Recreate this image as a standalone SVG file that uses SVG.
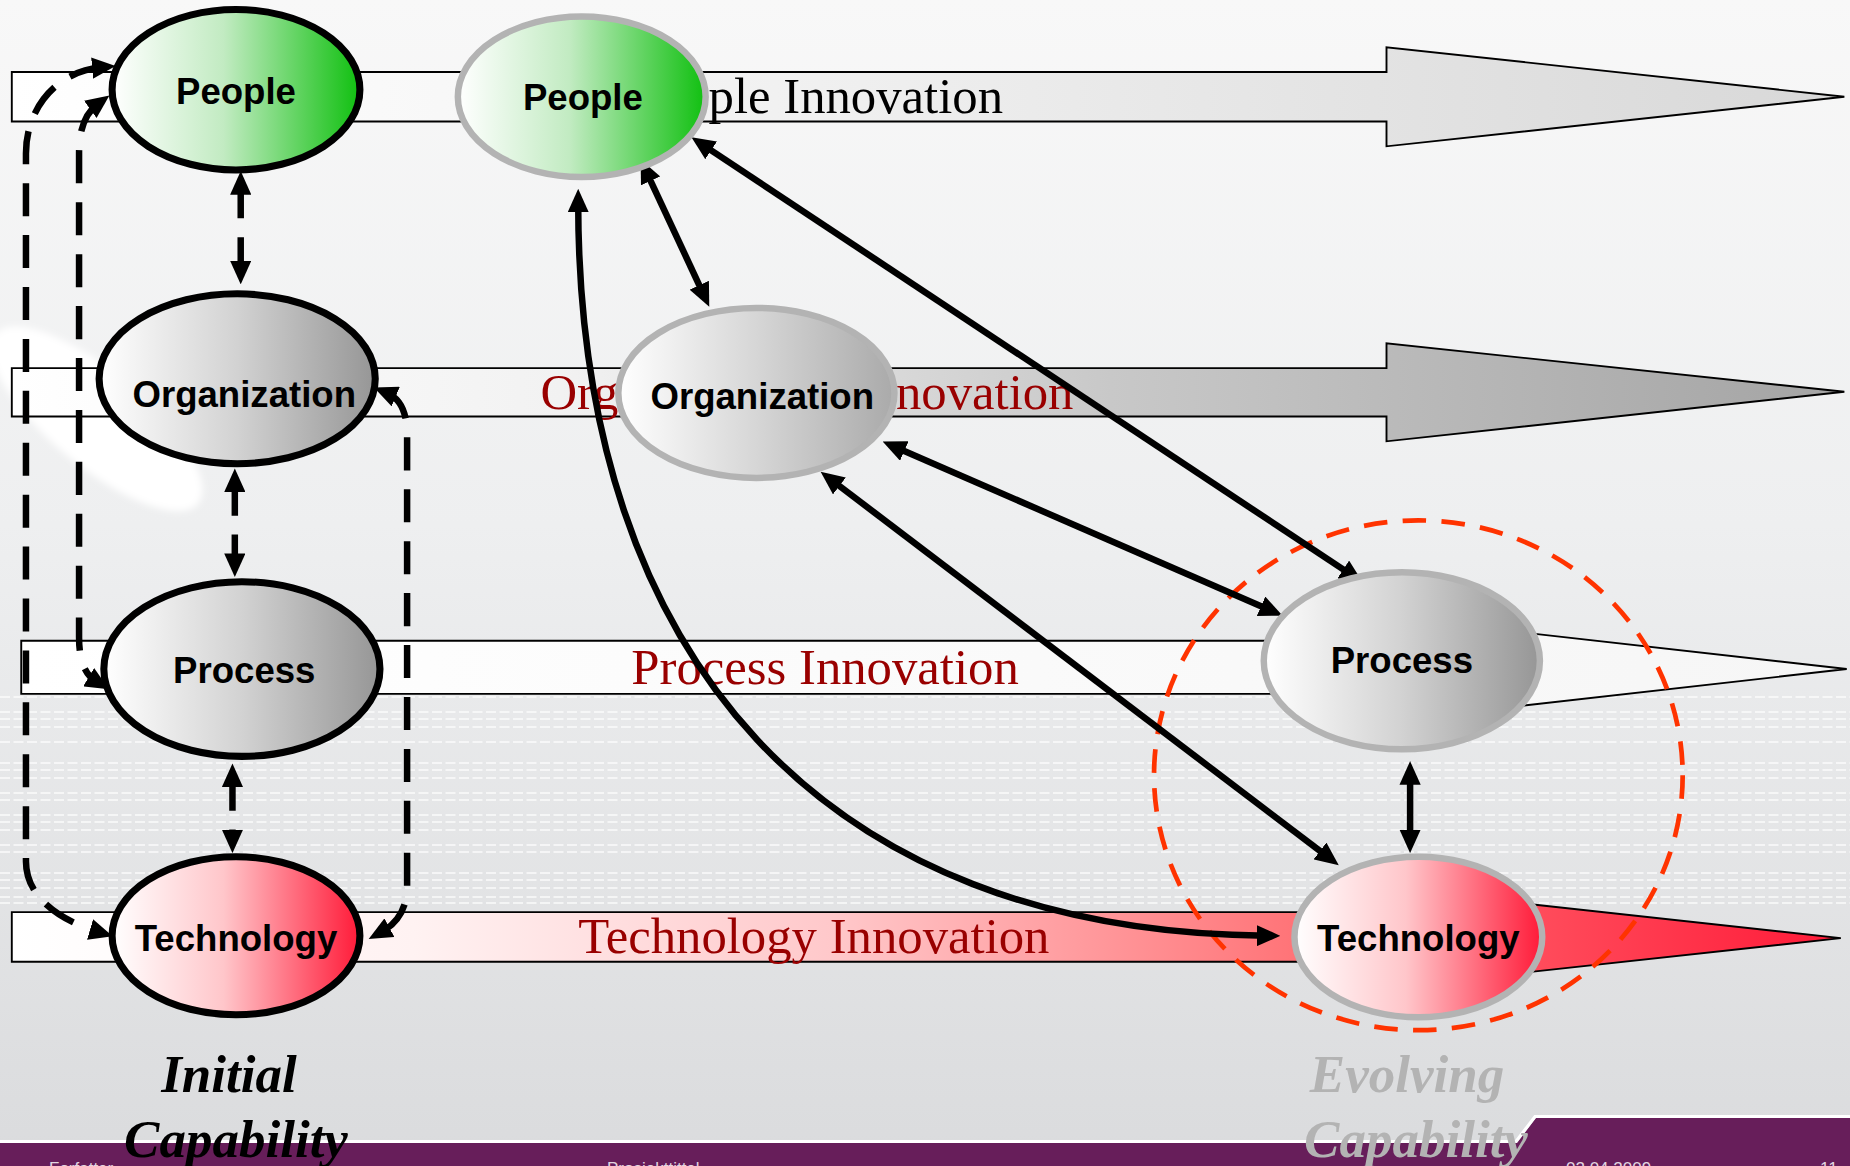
<svg xmlns="http://www.w3.org/2000/svg" width="1850" height="1166" viewBox="0 0 1850 1166">
<style>
.band{stroke:#000;stroke-width:1.6}
.btxt{font-family:"Liberation Serif","Times New Roman",serif;font-size:43px}
.red{fill:#990000}
.ntxt{font-family:"Liberation Sans",Arial,sans-serif;font-size:31px;font-weight:bold;fill:#000;text-anchor:middle}
.nl{stroke:#000;stroke-width:6}
.nr{stroke:#b3b3b3;stroke-width:5.5}
.con{fill:none;stroke:#000;stroke-width:5.5;marker-start:url(#ah);marker-end:url(#ah)}
.dash{stroke-dasharray:28 16}
.stripe{stroke:#ffffff;stroke-width:1.6;stroke-dasharray:10 3.5;opacity:0.85}
.cap{font-family:"Liberation Serif","Times New Roman",serif;font-size:53px;font-weight:bold;font-style:italic;text-anchor:middle}
.foot{font-family:"Liberation Sans",Arial,sans-serif;font-size:17px;fill:#e2d6e0}
</style>
<defs>
<linearGradient id="bg" x1="0" y1="0" x2="0" y2="1">
<stop offset="0" stop-color="#f8f8f8"/>
<stop offset="0.45" stop-color="#eeeff0"/>
<stop offset="1" stop-color="#dadbdd"/>
</linearGradient>
<linearGradient id="bPeople" gradientUnits="userSpaceOnUse" x1="10" y1="0" x2="1563" y2="0">
<stop offset="0" stop-color="#ffffff"/>
<stop offset="0.3" stop-color="#f6f6f6"/>
<stop offset="1" stop-color="#d8d8d8"/>
</linearGradient>
<linearGradient id="bOrg" gradientUnits="userSpaceOnUse" x1="10" y1="0" x2="1563" y2="0">
<stop offset="0" stop-color="#ffffff"/>
<stop offset="0.3" stop-color="#f2f2f2"/>
<stop offset="0.6" stop-color="#c8c8c8"/>
<stop offset="1" stop-color="#a4a4a4"/>
</linearGradient>
<linearGradient id="bProc" gradientUnits="userSpaceOnUse" x1="18" y1="0" x2="1565" y2="0">
<stop offset="0" stop-color="#ffffff"/>
<stop offset="1" stop-color="#f6f6f6"/>
</linearGradient>
<linearGradient id="bTech" gradientUnits="userSpaceOnUse" x1="10" y1="0" x2="1560" y2="0">
<stop offset="0" stop-color="#ffffff"/>
<stop offset="0.22" stop-color="#fff2f2"/>
<stop offset="0.45" stop-color="#ffc8ca"/>
<stop offset="0.7" stop-color="#ff7478"/>
<stop offset="1" stop-color="#ff1a38"/>
</linearGradient>
<linearGradient id="gGreen" x1="0" y1="0" x2="1" y2="0">
<stop offset="0" stop-color="#ffffff"/>
<stop offset="0.45" stop-color="#c2ebc2"/>
<stop offset="1" stop-color="#10c010"/>
</linearGradient>
<linearGradient id="gGray" x1="0" y1="0" x2="1" y2="0">
<stop offset="0" stop-color="#ffffff"/>
<stop offset="0.5" stop-color="#d2d2d2"/>
<stop offset="1" stop-color="#969696"/>
</linearGradient>
<linearGradient id="gGrayL" x1="0" y1="0" x2="1" y2="0">
<stop offset="0" stop-color="#ffffff"/>
<stop offset="0.5" stop-color="#d6d6d6"/>
<stop offset="1" stop-color="#aaaaaa"/>
</linearGradient>
<linearGradient id="gRed" x1="0" y1="0" x2="1" y2="0">
<stop offset="0" stop-color="#ffffff"/>
<stop offset="0.45" stop-color="#ffc6ca"/>
<stop offset="1" stop-color="#ff1a38"/>
</linearGradient>
<filter id="soft" x="-20%" y="-20%" width="140%" height="140%">
<feGaussianBlur stdDeviation="3"/>
</filter>
<marker id="ah" viewBox="0 0 20 18" refX="8" refY="9" markerWidth="20" markerHeight="18" markerUnits="userSpaceOnUse" orient="auto-start-reverse">
<path d="M0,0 L20,9 L0,18 z" fill="#000"/>
</marker>
</defs>

<rect width="1850" height="1166" fill="url(#bg)"/>

<g id="stripes">
<line class="stripe" x1="0" y1="697" x2="1850" y2="697"/>
<line class="stripe" x1="0" y1="712" x2="1850" y2="712"/>
<line class="stripe" x1="0" y1="719" x2="1850" y2="719"/>
<line class="stripe" x1="0" y1="727" x2="1850" y2="727"/>
<line class="stripe" x1="0" y1="742" x2="1850" y2="742"/>
<line class="stripe" x1="0" y1="763" x2="1850" y2="763"/>
<line class="stripe" x1="0" y1="770" x2="1850" y2="770"/>
<line class="stripe" x1="0" y1="778" x2="1850" y2="778"/>
<line class="stripe" x1="0" y1="793" x2="1850" y2="793"/>
<line class="stripe" x1="0" y1="800" x2="1850" y2="800"/>
<line class="stripe" x1="0" y1="815" x2="1850" y2="815"/>
<line class="stripe" x1="0" y1="822" x2="1850" y2="822"/>
<line class="stripe" x1="0" y1="830" x2="1850" y2="830"/>
<line class="stripe" x1="0" y1="845" x2="1850" y2="845"/>
<line class="stripe" x1="0" y1="852" x2="1850" y2="852"/>
<line class="stripe" x1="0" y1="873" x2="1850" y2="873"/>
<line class="stripe" x1="0" y1="880" x2="1850" y2="880"/>
<line class="stripe" x1="0" y1="888" x2="1850" y2="888"/>
<line class="stripe" x1="0" y1="897" x2="1850" y2="897"/>
<line class="stripe" x1="0" y1="903" x2="1850" y2="903"/>
</g>

<g id="diagram" transform="scale(1.18)">
<ellipse cx="82" cy="355" rx="112" ry="40" transform="rotate(40 82 355)" fill="#ffffff" filter="url(#soft)"/>

<g id="bands">
<polygon class="band" fill="url(#bPeople)" points="10,61 1175,61 1175,40 1563,82 1175,124 1175,103 10,103"/>
<polygon class="band" fill="url(#bOrg)" points="10,312 1175,312 1175,291 1563,332 1175,374 1175,353 10,353"/>
<polygon class="band" fill="url(#bProc)" points="18,543 1175,543 1175,523 1565,567 1175,611 1175,588 18,588"/>
<polygon class="band" fill="url(#bTech)" points="10,773 1175,773 1175,753 1560,795 1175,837 1175,815 10,815"/>
<text class="btxt" x="536" y="96" fill="#000">People Innovation</text>
<text class="btxt red" x="458" y="347">Organizational Innovation</text>
<text class="btxt red" x="535" y="580">Process Innovation</text>
<text class="btxt red" x="490" y="808">Technology Innovation</text>
</g>

<ellipse id="evolving-scope" cx="1202" cy="657" rx="224" ry="216" fill="none" stroke="#ff3300" stroke-width="4" stroke-dasharray="20 13"/>

<g id="connectors">
<line class="con dash" x1="204" y1="157" x2="204" y2="229"/>
<line class="con dash" x1="199" y1="409" x2="199" y2="477"/>
<line class="con dash" x1="197" y1="659" x2="197" y2="711"/>
<path class="con dash" d="M86,57 C50,60 22,90 22,130 L22,730 C22,760 50,780 84,790"/>
<path class="con dash" d="M83,88 C72,96 67,110 67,130 L67,540 C67,560 72,572 82,578"/>
<path class="con dash" d="M328,333 C340,338 345,350 345,370 L345,752 C345,770 336,783 323,790"/>
<line class="con" x1="548" y1="146" x2="596" y2="249"/>
<line class="con" x1="596" y1="123" x2="1145" y2="487"/>
<line class="con" x1="759" y1="379" x2="1076" y2="517"/>
<line class="con" x1="705" y1="407" x2="1125" y2="726"/>
<line class="con" x1="1195" y1="657" x2="1195" y2="711"/>
<path class="con" d="M490,172 C490,560 700,790 1073,793"/>
</g>

<g id="people-initial">
<ellipse class="nl" cx="200" cy="76" rx="105" ry="68" fill="url(#gGreen)"/>
<text class="ntxt" x="200" y="88">People</text>
</g>
<g id="organization-initial">
<ellipse class="nl" cx="201" cy="321" rx="117" ry="72" fill="url(#gGray)"/>
<text class="ntxt" x="207" y="345">Organization</text>
</g>
<g id="process-initial">
<ellipse class="nl" cx="205" cy="567" rx="117" ry="74" fill="url(#gGray)"/>
<text class="ntxt" x="207" y="579">Process</text>
</g>
<g id="technology-initial">
<ellipse class="nl" cx="200" cy="793" rx="105" ry="67" fill="url(#gRed)"/>
<text class="ntxt" x="200" y="806">Technology</text>
</g>

<g id="people-evolving">
<ellipse class="nr" cx="493" cy="82" rx="105" ry="68" fill="url(#gGreen)"/>
<text class="ntxt" x="494" y="93">People</text>
</g>
<g id="organization-evolving">
<ellipse class="nr" cx="641" cy="333" rx="117" ry="72" fill="url(#gGrayL)"/>
<text class="ntxt" x="646" y="347">Organization</text>
</g>
<g id="process-evolving">
<ellipse class="nr" cx="1188" cy="560" rx="117" ry="75" fill="url(#gGray)"/>
<text class="ntxt" x="1188" y="570">Process</text>
</g>
<g id="technology-evolving">
<ellipse class="nr" cx="1202" cy="794" rx="105" ry="68" fill="url(#gRed)"/>
<text class="ntxt" x="1202" y="806">Technology</text>
</g>
</g>

<g id="footer">
<polygon fill="#671e5a" points="0,1143 1517,1143 1536,1118 1850,1118 1850,1166 0,1166"/>
<polyline fill="none" stroke="#ffffff" stroke-width="3" points="0,1141.5 1516,1141.5 1535,1116.5 1850,1116.5"/>
<text class="foot" x="49" y="1174">Forfatter</text>
<text class="foot" x="607" y="1174">Prosjekttittel</text>
<text class="foot" x="1566" y="1174">02.04.2009</text>
<text class="foot" x="1820" y="1174">11</text>
</g>

<g id="captions">
<text class="cap" x="229" y="1092" fill="#000">Initial</text>
<text class="cap" x="236" y="1157" fill="#000">Capability</text>
<text class="cap" x="1407" y="1092" fill="#b3b3b3">Evolving</text>
<text class="cap" x="1416" y="1157" fill="#b3b3b3">Capability</text>
</g>
</svg>
